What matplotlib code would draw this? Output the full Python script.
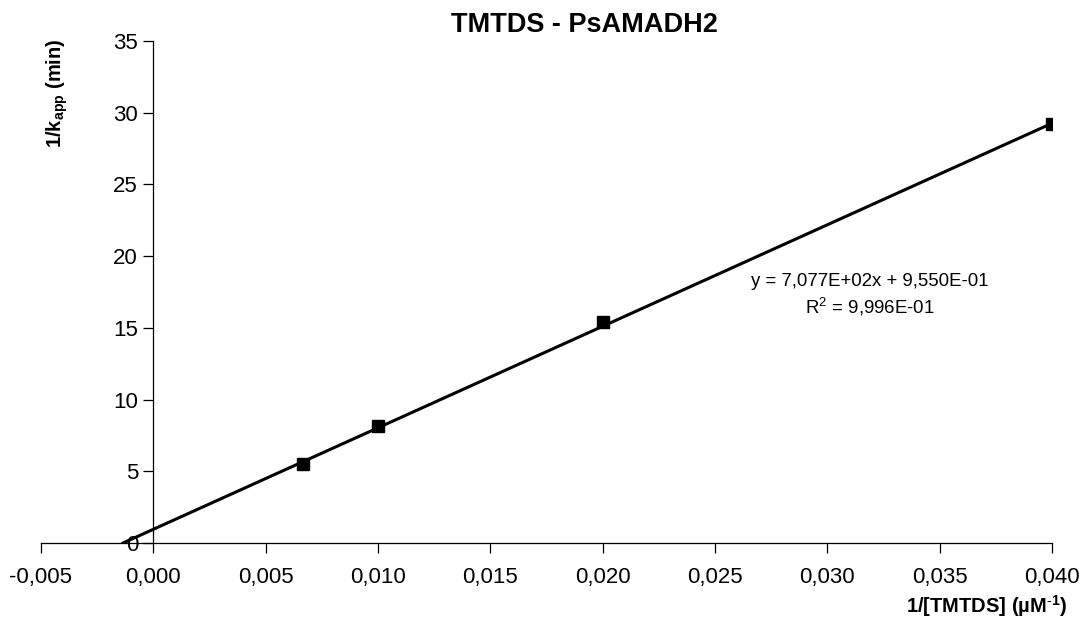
import numpy as np
import matplotlib.pyplot as plt

plt.rcParams['font.family'] = ['Liberation Sans', 'DejaVu Sans']
plt.rcParams['mathtext.fontset'] = 'custom'
plt.rcParams['mathtext.rm'] = 'Liberation Sans'
plt.rcParams['mathtext.bf'] = 'Liberation Sans:bold'

# data
inv_conc = [1 / 150, 0.010, 0.020, 0.040]
inv_kapp = [5.5, 8.18, 15.4, 29.2]

slope = 707.7
intercept = 0.955
eq_text = 'y = 7,077E+02x + 9,550E-01'
r2_text = r'R$^{\mathrm{2}}$ = 9,996E-01'

xticks = np.arange(-0.005, 0.0401, 0.005)
yticks = np.arange(0, 36, 5)

fig = plt.figure(figsize=(10.83, 6.21), dpi=100)
ax = fig.add_axes([41 / 1083, 78 / 621, 1011 / 1083, 502 / 621])

# trendline, extended back to the x intercept
x0 = -intercept / slope
xl = np.array([x0, max(inv_conc)])
ax.plot(xl, slope * xl + intercept, color='black', lw=2.2, zorder=3)
ax.plot(inv_conc, inv_kapp, ls='none', marker='s', ms=8.5, color='black', zorder=4)

ax.set_xlim(-0.005, 0.040)
ax.set_ylim(0, 35)
ax.set_xticks(xticks)
ax.set_yticks(yticks)
ax.set_xticklabels([f'{v:.3f}'.replace('.', ',') for v in xticks])
ax.set_yticklabels([f'{v:d}' for v in yticks])

ax.spines['left'].set_position(('data', 0))
ax.spines['top'].set_visible(False)
ax.spines['right'].set_visible(False)
for s in ax.spines.values():
    s.set_linewidth(0.9)
ax.tick_params(axis='both', direction='out', length=7, width=0.9, labelsize=16)
ax.tick_params(axis='x', pad=10)
ax.tick_params(axis='y', pad=4)

fig.text(584 / 1083, 1 - 25 / 621, 'TMTDS - PsAMADH2', ha='center', va='center',
         fontsize=19.5, fontweight='bold')
fig.text(57 / 1083, 1 - 93 / 621, r'1/k$_{\mathbf{app}}$ (min)', rotation=90,
         ha='center', va='center', fontsize=14.5, fontweight='bold')
fig.text(1067 / 1083, 1 - 606 / 621, r'1/[TMTDS] (µM$^{\mathbf{\text{-}1}}$)',
         ha='right', va='center', fontsize=14.5, fontweight='bold')

ax.text(870 / 1083, 1 - 282 / 621, eq_text, transform=fig.transFigure,
        ha='center', va='center', fontsize=13.4)
ax.text(870 / 1083, 1 - 307 / 621, r2_text, transform=fig.transFigure,
        ha='center', va='center', fontsize=13.4)

fig.savefig('out.png', dpi=100)
